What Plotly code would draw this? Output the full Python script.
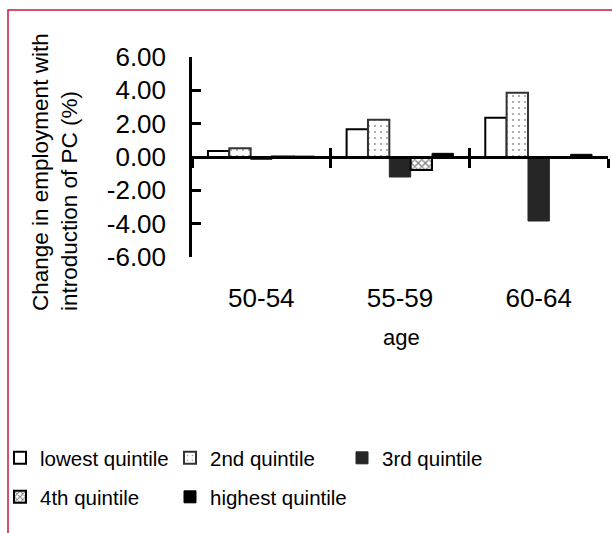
import plotly.graph_objects as go

# ---- data ----
ages = ["50-54", "55-59", "60-64"]
lowest = [0.36, 1.66, 2.36]
second = [0.52, 2.24, 3.86]
third = [-0.14, -1.20, -3.84]
fourth = [0.03, -0.78, -0.05]
highest = [0.05, 0.22, 0.16]
series_names = ["lowest quintile", "2nd quintile", "3rd quintile", "4th quintile", "highest quintile"]
y_tickvals = [6, 4, 2, 0, -2, -4, -6]
y_ticktext = ["6.00", "4.00", "2.00", "0.00", "-2.00", "-4.00", "-6.00"]
boundaries = [-0.5, 0.5, 1.5, 2.5]

W, H = 612, 533
FONT = "Arial, 'Liberation Sans', sans-serif"

def px_x(p):
    return p / W

def px_y(p):
    return 1 - p / H

fig = go.Figure()

styles = [
    dict(color="white", line=dict(color="black", width=2)),
    dict(color="white", line=dict(color="#333333", width=2),
         pattern=dict(shape=".", fgcolor="#222222", bgcolor="white", size=6, solidity=0.08)),
    dict(color="#262626", line=dict(color="#262626", width=1)),
    dict(color="white", line=dict(color="black", width=2),
         pattern=dict(shape="x", fgcolor="#000000", bgcolor="white", size=5, solidity=0.45)),
    dict(color="black", line=dict(color="black", width=1)),
]
values = [lowest, second, third, fourth, highest]
legend_ids = ["legend", "legend2", "legend3", "legend4", "legend5"]
# legend positions (pixel left, pixel row centre)
legend_pos = [(0, 458), (170, 458), (342, 458), (0, 497), (170, 497)]

for name, vals, st, lg in zip(series_names, values, styles, legend_ids):
    fig.add_trace(go.Bar(x=ages, y=vals, name=name, marker=st, legend=lg))

# invisible traces to carry the overlay axes (x axis line through zero)
fig.add_trace(go.Scatter(x=[boundaries[0], boundaries[-1]], y=[0, 0], xaxis="x2", yaxis="y",
                         mode="lines", line=dict(width=0), showlegend=False, hoverinfo="skip"))
fig.add_trace(go.Scatter(x=[boundaries[0], boundaries[-1]], y=[0, 0], xaxis="x3", yaxis="y",
                         mode="lines", line=dict(width=0), showlegend=False, hoverinfo="skip"))

x_dom = [px_x(192), px_x(608)]
y_dom = [px_y(257), px_y(57)]
zero_pos = px_y(157)

legends = {}
for lg, (lx, ly) in zip(legend_ids, legend_pos):
    legends[lg] = dict(orientation="h", x=px_x(lx), xanchor="left", y=px_y(ly),
                       yanchor="middle", bgcolor="rgba(0,0,0,0)",
                       font=dict(size=20.5, family=FONT))

fig.update_layout(
    width=W, height=H,
    margin=dict(l=0, r=0, t=0, b=0, autoexpand=False),
    paper_bgcolor="white", plot_bgcolor="white",
    barmode="group", bargap=0.23, bargroupgap=0,
    font=dict(family=FONT, color="black"),
    xaxis=dict(domain=x_dom, type="category", range=[-0.5, 2.5], showline=False,
               showgrid=False, zeroline=False, ticks="", anchor="y",
               tickfont=dict(size=26, family=FONT), ticklabelstandoff=23),
    xaxis2=dict(domain=x_dom, overlaying="x", anchor="free", position=zero_pos,
                range=[-0.5, 2.5], tickmode="array", tickvals=boundaries,
                showticklabels=False, showline=True, linecolor="black", linewidth=2.5,
                ticks="outside", ticklen=9, tickwidth=2.5, tickcolor="black",
                showgrid=False, zeroline=False),
    xaxis3=dict(domain=x_dom, overlaying="x", anchor="free", position=zero_pos,
                range=[-0.5, 2.5], tickmode="array", tickvals=boundaries,
                showticklabels=False, showline=False,
                ticks="inside", ticklen=9, tickwidth=2.5, tickcolor="black",
                showgrid=False, zeroline=False),
    yaxis=dict(domain=y_dom, range=[-6, 6], tickmode="array", tickvals=y_tickvals,
               ticktext=y_ticktext, showline=True, linecolor="black", linewidth=2.5,
               ticks="inside", ticklen=9, tickwidth=2.5, tickcolor="black",
               showgrid=False, zeroline=False, anchor="x",
               tickfont=dict(size=26, family=FONT), ticklabelstandoff=18),
    shapes=[dict(type="rect", xref="paper", yref="paper", x0=px_x(8), x1=1.02,
                 y0=-0.02, y1=px_y(10), line=dict(color="#C8193C", width=1.5),
                 fillcolor="rgba(0,0,0,0)", layer="above")],
    annotations=[
        dict(text="Change in employment with<br>introduction of PC (%)", textangle=-90,
             xref="paper", yref="paper", x=px_x(55), y=px_y(313), xanchor="center",
             yanchor="bottom", align="left", showarrow=False,
             font=dict(size=22.5, family=FONT)),
        dict(text="age", xref="paper", yref="paper", x=px_x(401), y=px_y(337),
             xanchor="center", yanchor="middle", showarrow=False,
             font=dict(size=22, family=FONT)),
    ],
    **legends,
)

fig.write_html("out.html")
